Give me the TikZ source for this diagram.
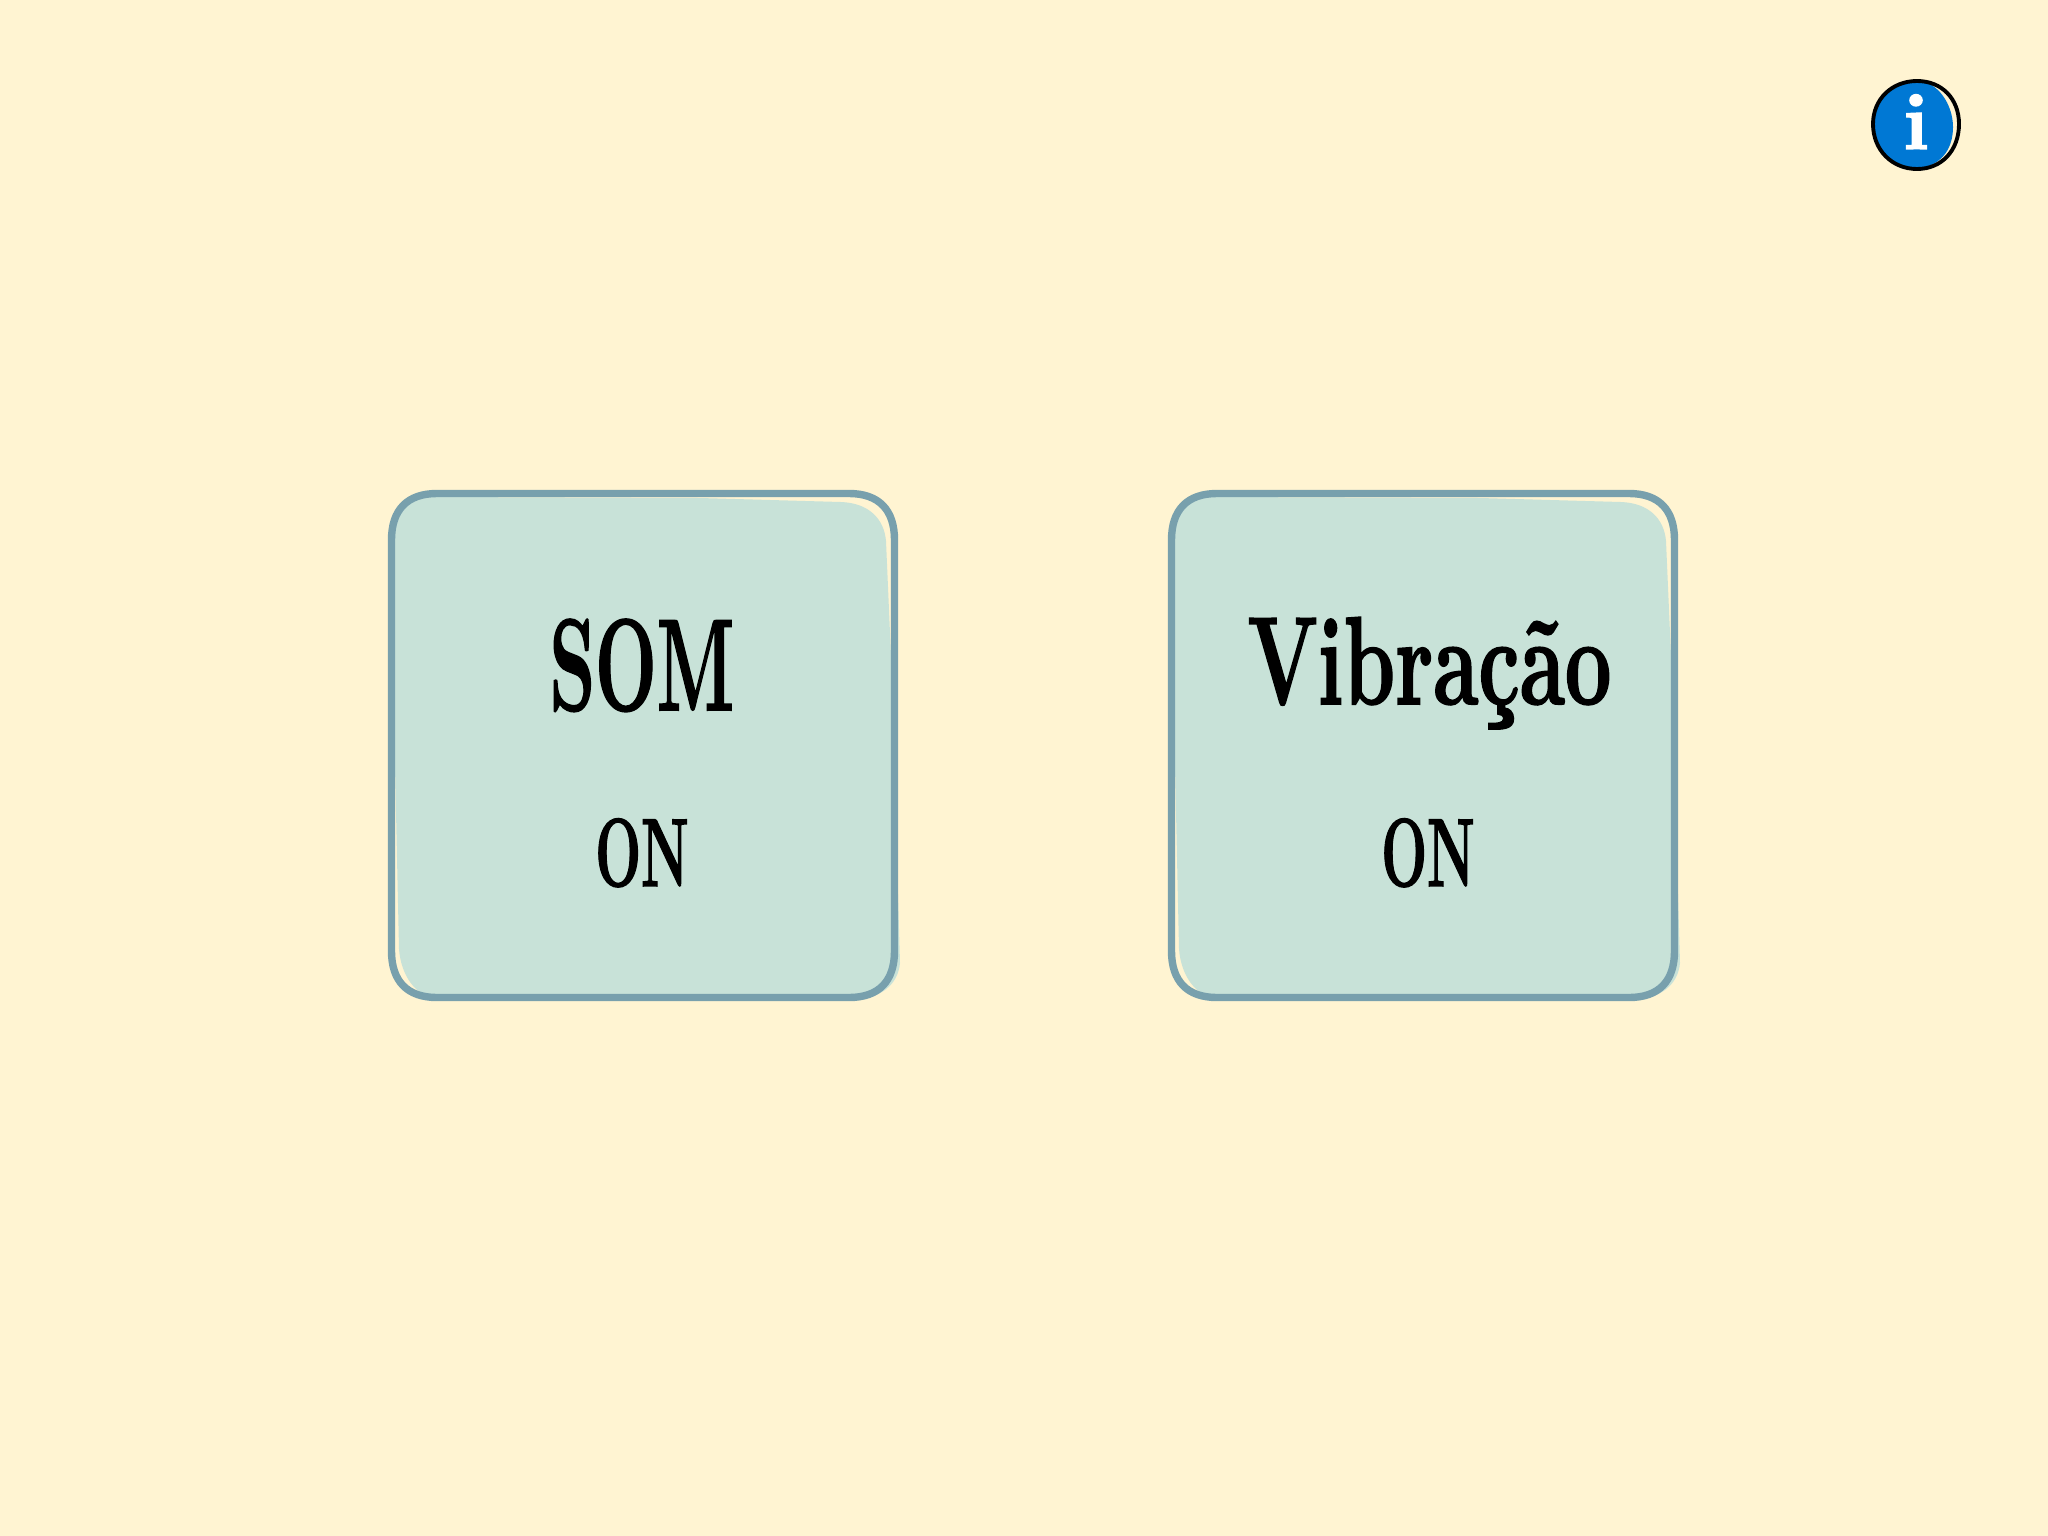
\documentclass[tikz,border=0pt]{standalone}
\usepackage{fontspec}
\usepackage{tikz}
\newfontfamily\heavyface{Latin Modern Roman}[BoldFeatures={FakeBold=1.6}]
\definecolor{paper}{HTML}{FFF4D2}
\definecolor{cardgreen}{HTML}{C8E2D8}
\definecolor{cardedge}{HTML}{78A0AD}
\definecolor{infoblue}{HTML}{0078D4}
\begin{document}
\begin{tikzpicture}[x=.01cm, y=-.01cm,
    cardline/.style={draw=cardedge, line width=2.1pt},
    bigword/.style={anchor=base, inner sep=0pt, transform shape, font=\fontsize{37}{40}\heavyface\bfseries},
    smallword/.style={anchor=base, inner sep=0pt, transform shape, font=\fontsize{27.5}{30}\heavyface\bfseries}]
  \fill [paper] (0,0) rectangle (2048,1536);
  \useasboundingbox (0,0) rectangle (2048,1536);
  \foreach \off in {0,780} {
    \begin{scope}[xshift=\off*.01cm]
      \fill [cardgreen] (395,534) .. controls (395,510) and (410,497) .. (434,497) -- (700,498)
        -- (841,502) .. controls (868,503) and (884,518) .. (886,541) -- (891,656) -- (900,963)
        .. controls (898,985) and (880,1000) .. (849,1000) -- (434,998)
        .. controls (415,995) and (401,975) .. (399,949) -- (395,766) -- cycle;
      \draw [cardline] (391.5,540) .. controls (391.5,510) and (407,493.5) .. (437,493.5) -- (849,493.5)
        .. controls (879,493.5) and (894.5,510) .. (894.5,540) -- (894.5,951)
        .. controls (894.5,981) and (879,997.5) .. (849,997.5) -- (437,997.5)
        .. controls (407,997.5) and (391.5,981) .. (391.5,951) -- cycle;
    \end{scope}
  }
  \node (som) [bigword, xscale=.56] at (642,710) {SOM};
  \node (somstate) [smallword, xscale=.56] at (642,886) {ON};
  \node (vib) [bigword, xscale=.635, yscale=.96] at (1429.5,704) {Vibração};
  \node (vibstate) [smallword, xscale=.56] at (1428,886) {ON};
  % info badge
  \fill [infoblue] (1917,81) .. controls (1938,81) and (1953,105) .. (1953,127)
    .. controls (1953,145) and (1945,165) .. (1917,169)
    .. controls (1892,169) and (1873,150) .. (1873,124) .. controls (1873,99) and (1892,81) .. (1917,81) -- cycle;
  \draw [line width=1.1pt, black] (1917,81) .. controls (1942,81) and (1959,99) .. (1959,124)
    .. controls (1959,150) and (1942,169) .. (1917,169)
    .. controls (1892,169) and (1873,150) .. (1873,124) .. controls (1873,99) and (1892,81) .. (1917,81) -- cycle;
  \node (infoi) [anchor=base, inner sep=0pt, text=white, transform shape, xscale=1.05, font=\fontsize{22.8}{24}\heavyface\bfseries] at (1916,149) {i};
\end{tikzpicture}
\end{document}
